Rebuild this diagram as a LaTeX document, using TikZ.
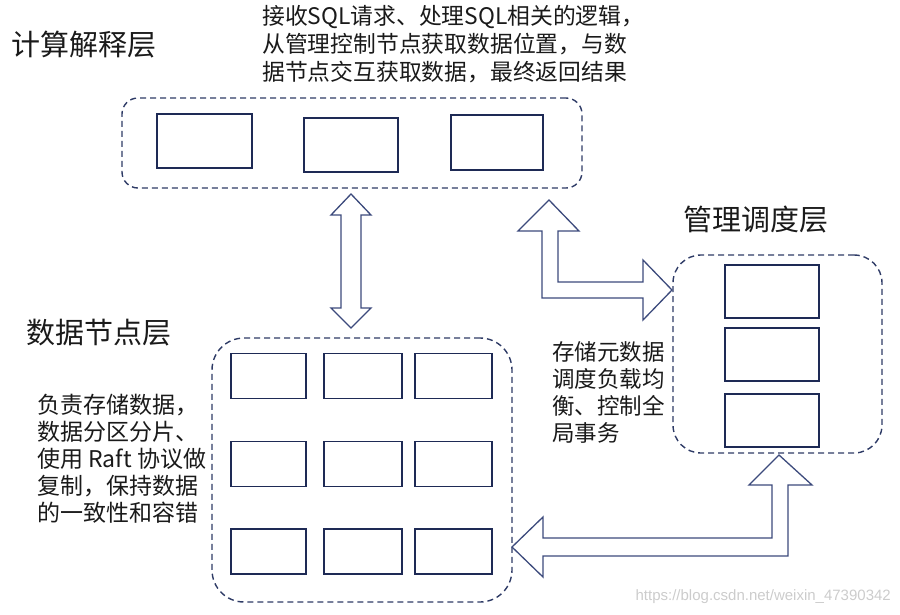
\documentclass[tikz,border=0pt]{standalone}
\usepackage{fontspec}
\setsansfont{Liberation Sans}
\newfontfamily\cjk{Noto Sans CJK SC}
\definecolor{boxnavy}{HTML}{1E2A55}
\definecolor{dashnavy}{HTML}{2E3B66}
\definecolor{arrownavy}{HTML}{3C4A7C}
\definecolor{inkgray}{HTML}{1A1A1A}

\tikzset{
  unit/.style={draw=boxnavy,line width=1.8pt,fill=white,inner sep=0pt},
  layer/.style={draw=dashnavy,line width=1.4pt,dash pattern=on 6pt off 4pt,inner sep=0pt},
  title/.style={font=\cjk\fontsize{29}{32}\selectfont,text=inkgray,inner sep=0pt,anchor=west},
  note/.style={font=\cjk\fontsize{22.8}{28}\selectfont,text=inkgray,inner sep=0pt,align=left,anchor=west},
  blockarrow/.style={draw=arrownavy,line width=1.3pt,fill=white,line join=miter}
}

\begin{document}
\begin{tikzpicture}[x=1pt,y=-1pt]
\useasboundingbox (0,0) rectangle (900,614);

% layers
\node[layer,rounded corners=16pt,minimum width=460pt,minimum height=90pt] (calc) at (352,143) {};
\node[layer,rounded corners=28pt,minimum width=209pt,minimum height=198pt] (mgr) at (777.5,354) {};
\node[layer,rounded corners=32pt,minimum width=300pt,minimum height=264pt] (data) at (362,470) {};

% computing units
\node[unit,minimum width=95pt,minimum height=54pt] (c1) at (204.5,141) {};
\node[unit,minimum width=94pt,minimum height=54pt] (c2) at (351,145) {};
\node[unit,minimum width=92pt,minimum height=55pt] (c3) at (497,142.5) {};

% manager units
\foreach \y [count=\i] in {291.5,354.5,420.5} {
    \node[unit,minimum width=94pt,minimum height=53pt] (m\i) at (772,\y) {};
}

% data units
\foreach \y [count=\r] in {376,464,551.5} {
    \node[unit,minimum width=75pt,minimum height=45pt] (d\r1) at (268.5,\y) {};
    \node[unit,minimum width=78pt,minimum height=45pt] (d\r2) at (363,\y) {};
    \node[unit,minimum width=77pt,minimum height=45pt] (d\r3) at (453.5,\y) {};
}

% block arrows
\draw[blockarrow] (351,194) -- (371,215) -- (361,215) -- (361,308) -- (371,308) -- (351,328)
    -- (331,308) -- (341,308) -- (341,215) -- (331,215) -- cycle;
\draw[blockarrow] (549,200) -- (579,231) -- (558,231) -- (558,282) -- (643,282) -- (643,260)
    -- (672,290) -- (643,320) -- (643,298) -- (542,298) -- (542,231) -- (518,231) -- cycle;
\draw[blockarrow] (779,455) -- (812,485) -- (788,485) -- (788,556) -- (543,556) -- (543,577)
    -- (512,547) -- (543,517) -- (543,538) -- (772,538) -- (772,485) -- (749,485) -- cycle;

% labels
\node[title] (calcname) at (11,45) {计算解释层};
\node[title] (mgrname) at (683,220) {管理调度层};
\node[title] (dataname) at (26,333) {数据节点层};

\node[note] (calcnote) at (262,44) {接收SQL请求、处理SQL相关的逻辑，\\从管理控制节点获取数据位置，与数\\据节点交互获取数据，最终返回结果};
\node[note,font=\cjk\fontsize{23}{27}\selectfont] (datanote) at (37,459) {负责存储数据，\\数据分区分片、\\使用 Raft 协议做\\复制，保持数据\\的一致性和容错};
\node[note,font=\cjk\fontsize{22.5}{27}\selectfont] (mgrnote) at (552,392.5) {存储元数据\\调度负载均\\衡、控制全\\局事务};

\node[font=\sffamily\fontsize{15}{18}\selectfont,text=black!20,anchor=east,inner sep=0pt] (mark) at (891,597) {https://blog.csdn.net/weixin\_47390342};
\end{tikzpicture}
\end{document}
